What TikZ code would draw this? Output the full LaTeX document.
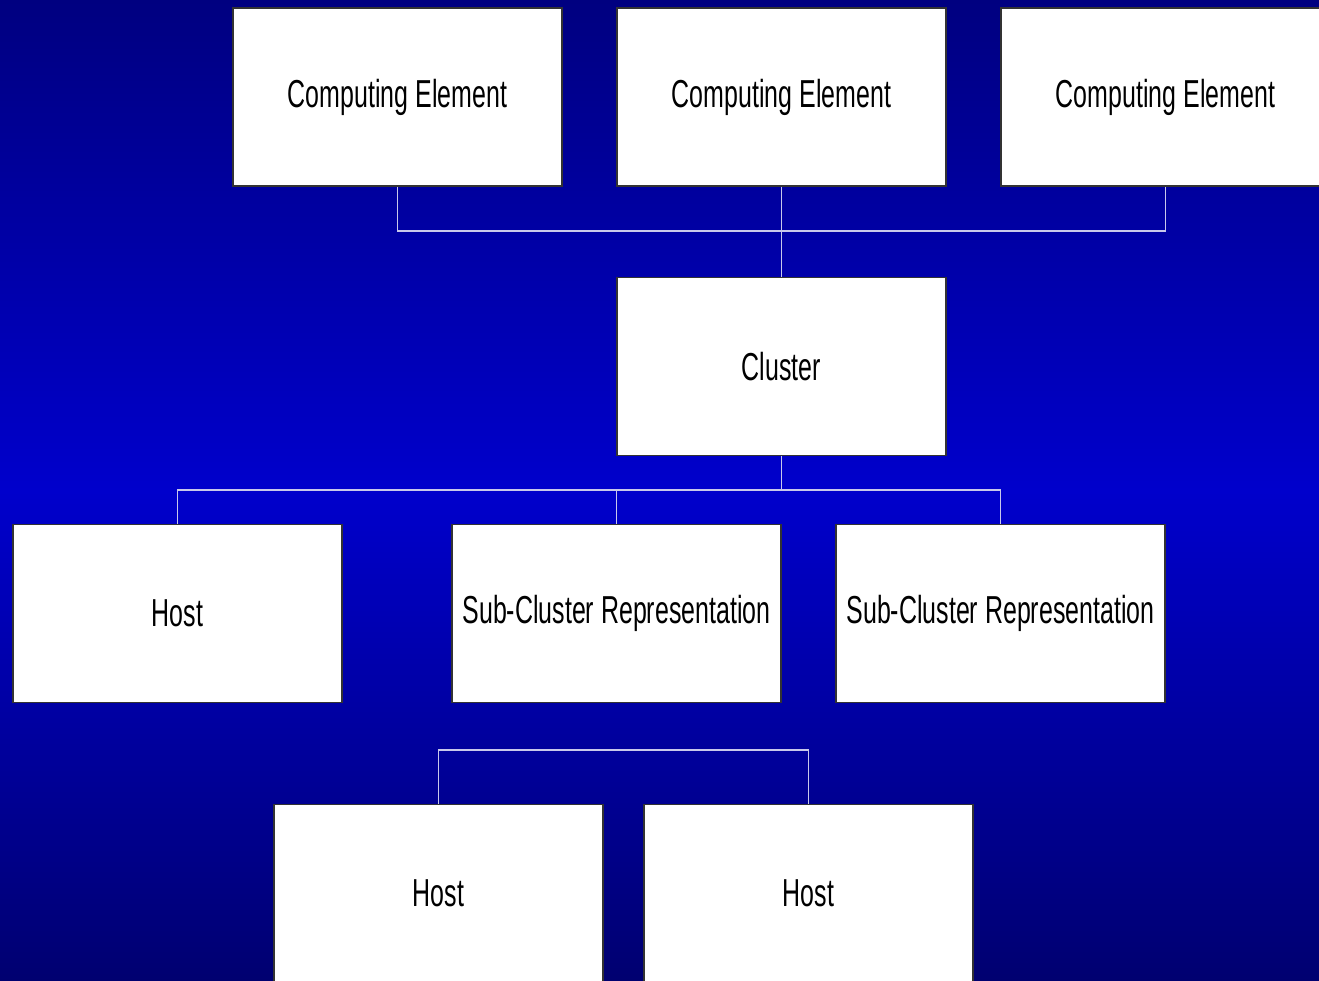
\documentclass[tikz,border=0pt]{standalone}
\usepackage{fontspec}
\setmainfont{Liberation Sans}[FakeStretch=0.64]
\usepackage{xcolor}
\usepackage{tikz}
\usetikzlibrary{positioning}

\definecolor{bgtop}{RGB}{0,0,128}
\definecolor{bgmid}{RGB}{0,0,204}
\definecolor{bgbot}{RGB}{0,0,112}
\definecolor{linkcol}{RGB}{200,200,235}

\tikzset{
    box/.style={draw=black!80, fill=white, line width=0.6pt, inner sep=0pt,
        minimum width=164.5pt, minimum height=89pt,
        font=\fontsize{19.5}{23}\selectfont},
    link/.style={draw=linkcol, line width=0.6pt}
}

\begin{document}
\begin{tikzpicture}[x=0.5pt, y=-0.5pt]
    % background
    \useasboundingbox (0,0) rectangle (1319,981);
    \shade[top color=bgtop, bottom color=bgbot, middle color=bgmid] (0,0) rectangle (1319,981);

    % boxes
    \node[box] (ce1) at (397.5,97) {Computing Element};
    \node[box] (ce2) at (781.5,97) {Computing Element};
    \node[box] (ce3) at (1165.5,97) {Computing Element};
    \node[box] (cluster) at (781.5,366.5) {Cluster};
    \node[box] (host1) at (177.5,613.5) {Host};
    \node[box] (sub1) at (616.5,613.5) {Sub-Cluster Representation};
    \node[box] (sub2) at (1000.5,613.5) {Sub-Cluster Representation};
    \node[box] (host2) at (438.5,893.5) {Host};
    \node[box] (host3) at (808.5,893.5) {Host};

    \coordinate (topbus) at (781.5,231);
    \coordinate (midbus) at (781.5,490);
    \coordinate (lowbus) at (623.5,750);

    % connectors
    \draw[link] (ce1.south) |- (topbus) -| (ce3.south);
    \draw[link] (ce2.south) -- (cluster.north);
    \draw[link] (cluster.south) -- (midbus);
    \draw[link] (host1.north) |- (midbus) -| (sub2.north);
    \draw[link] (sub1.north) -- (sub1.north |- midbus);
    \draw[link] (host2.north) |- (lowbus) -| (host3.north);
\end{tikzpicture}
\end{document}
